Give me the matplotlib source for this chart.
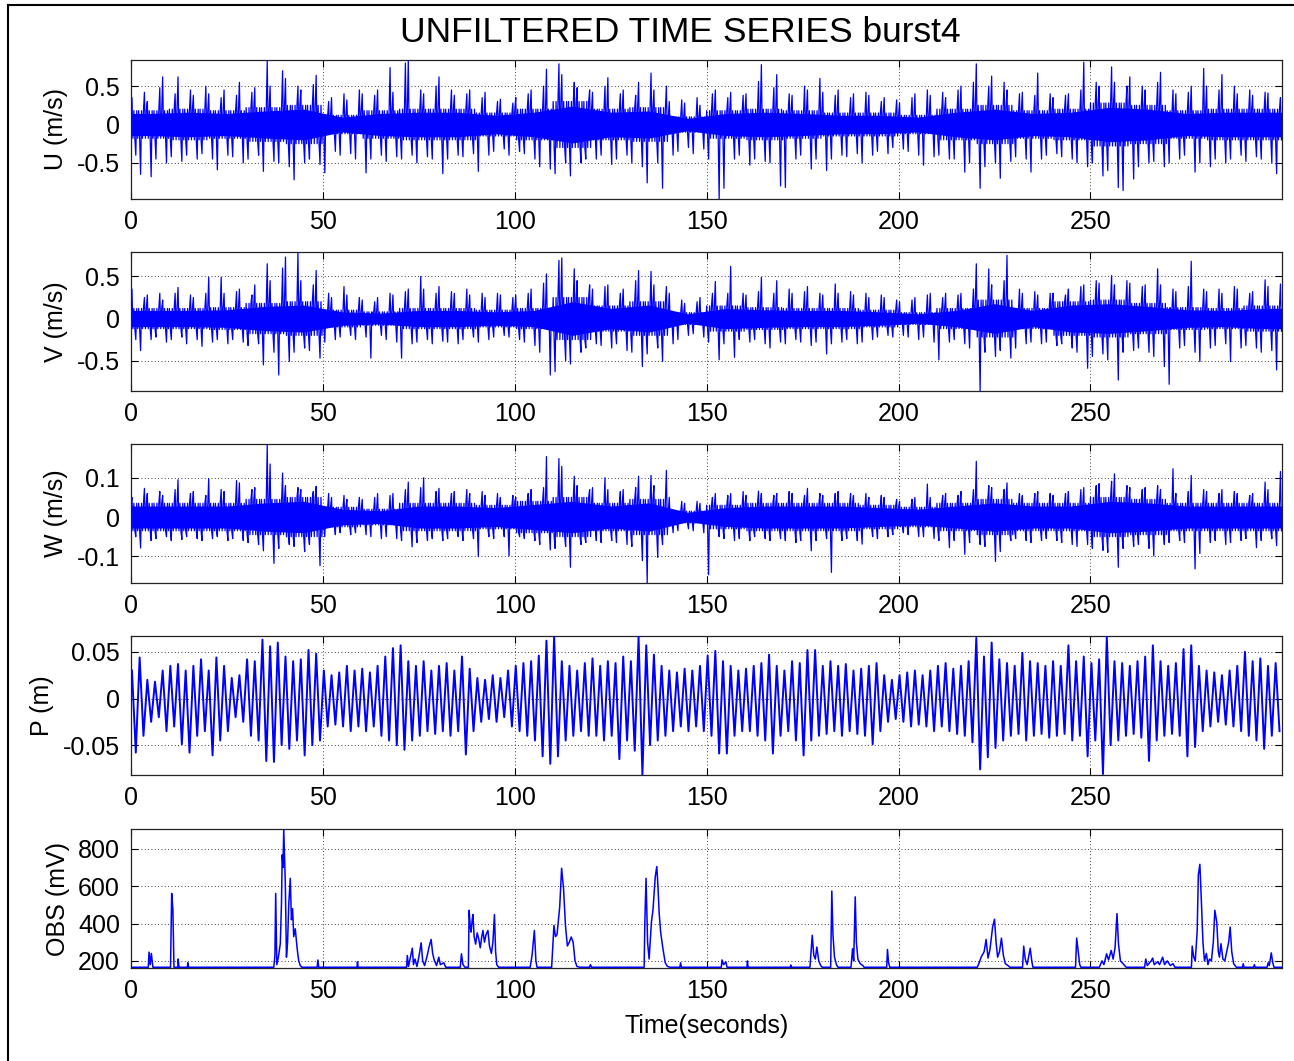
import numpy as np
import matplotlib
matplotlib.use("Agg")
import matplotlib.pyplot as plt
from matplotlib.lines import Line2D
from matplotlib.ticker import FormatStrFormatter

plt.rcParams['font.family'] = ['Liberation Sans', 'DejaVu Sans']
plt.rcParams['axes.unicode_minus'] = False

# envelopes, one value per 2 s bin (150 bins, 0-300 s)
# hi = biggest upward spike in the bin, lo = biggest downward spike
# core = half width of the dense band, one value per 10 s
u_hi = [0.35, 0.42, 0.30, 0.48, 0.62, 0.40, 0.62, 0.45, 0.38, 0.50,
        0.40, 0.35, 0.45, 0.38, 0.55, 0.42, 0.48, 0.83, 0.50, 0.70,
        0.60, 0.50, 0.45, 0.52, 0.64, 0.30, 0.35, 0.40, 0.32, 0.45,
        0.40, 0.38, 0.45, 0.74, 0.42, 0.80, 0.84, 0.45, 0.40, 0.50,
        0.62, 0.45, 0.38, 0.40, 0.45, 0.35, 0.42, 0.30, 0.33, 0.28,
        0.35, 0.40, 0.45, 0.50, 0.72, 0.79, 0.65, 0.55, 0.48, 0.45,
        0.42, 0.50, 0.61, 0.40, 0.45, 0.38, 0.55, 0.67, 0.45, 0.50,
        0.30, 0.32, 0.28, 0.35, 0.25, 0.40, 0.45, 0.35, 0.42, 0.38,
        0.40, 0.56, 0.78, 0.48, 0.65, 0.40, 0.38, 0.50, 0.45, 0.60,
        0.42, 0.38, 0.45, 0.35, 0.40, 0.42, 0.38, 0.30, 0.35, 0.32,
        0.28, 0.35, 0.40, 0.45, 0.38, 0.42, 0.35, 0.45, 0.50, 0.55,
        0.79, 0.50, 0.63, 0.55, 0.45, 0.40, 0.42, 0.38, 0.67, 0.40,
        0.35, 0.38, 0.40, 0.45, 0.81, 0.55, 0.50, 0.75, 0.55, 0.50,
        0.62, 0.50, 0.45, 0.55, 0.68, 0.45, 0.40, 0.42, 0.50, 0.73,
        0.50, 0.45, 0.65, 0.50, 0.40, 0.45, 0.38, 0.42, 0.41, 0.35]
u_lo = [-0.40, -0.65, -0.68, -0.45, -0.50, -0.42, -0.48, -0.40, -0.45, -0.38,
        -0.45, -0.59, -0.40, -0.42, -0.50, -0.45, -0.40, -0.61, -0.48, -0.50,
        -0.55, -0.72, -0.50, -0.45, -0.52, -0.63, -0.35, -0.40, -0.38, -0.45,
        -0.63, -0.45, -0.40, -0.48, -0.42, -0.45, -0.40, -0.50, -0.42, -0.45,
        -0.64, -0.45, -0.40, -0.42, -0.38, -0.61, -0.40, -0.35, -0.32, -0.40,
        -0.35, -0.38, -0.45, -0.55, -0.58, -0.64, -0.50, -0.67, -0.50, -0.45,
        -0.45, -0.40, -0.52, -0.45, -0.40, -0.50, -0.55, -0.76, -0.50, -0.83,
        -0.40, -0.35, -0.30, -0.38, -0.32, -0.45, -0.97, -0.83, -0.45, -0.40,
        -0.53, -0.45, -0.48, -0.50, -0.80, -0.82, -0.45, -0.40, -0.58, -0.45,
        -0.60, -0.45, -0.40, -0.42, -0.38, -0.50, -0.40, -0.35, -0.38, -0.30,
        -0.32, -0.35, -0.40, -0.53, -0.42, -0.40, -0.45, -0.45, -0.62, -0.50,
        -0.83, -0.55, -0.50, -0.70, -0.48, -0.42, -0.45, -0.62, -0.45, -0.40,
        -0.38, -0.42, -0.45, -0.50, -0.55, -0.50, -0.67, -0.60, -0.82, -0.86,
        -0.71, -0.55, -0.50, -0.48, -0.55, -0.50, -0.45, -0.40, -0.62, -0.50,
        -0.55, -0.45, -0.50, -0.45, -0.40, -0.48, -0.42, -0.45, -0.50, -0.64]
u_core = [0.18, 0.20, 0.18, 0.22, 0.25, 0.12, 0.18, 0.20, 0.20, 0.15,
          0.20, 0.30, 0.20, 0.22, 0.10, 0.18, 0.20, 0.18, 0.15, 0.15,
          0.12, 0.20, 0.25, 0.18, 0.20, 0.28, 0.25, 0.18, 0.20, 0.20]

v_hi = [0.35, 0.25, 0.28, 0.30, 0.22, 0.30, 0.37, 0.28, 0.25, 0.30,
        0.49, 0.49, 0.30, 0.32, 0.35, 0.28, 0.40, 0.65, 0.45, 0.60,
        0.73, 0.79, 0.45, 0.40, 0.57, 0.30, 0.25, 0.38, 0.28, 0.25,
        0.22, 0.20, 0.25, 0.30, 0.28, 0.32, 0.35, 0.50, 0.35, 0.30,
        0.38, 0.32, 0.30, 0.35, 0.28, 0.30, 0.25, 0.30, 0.28, 0.25,
        0.28, 0.30, 0.35, 0.42, 0.53, 0.69, 0.72, 0.59, 0.45, 0.40,
        0.35, 0.38, 0.40, 0.30, 0.35, 0.45, 0.57, 0.56, 0.40, 0.38,
        0.30, 0.22, 0.18, 0.20, 0.25, 0.30, 0.44, 0.30, 0.62, 0.30,
        0.28, 0.32, 0.49, 0.30, 0.45, 0.35, 0.30, 0.32, 0.38, 0.30,
        0.28, 0.41, 0.30, 0.32, 0.28, 0.30, 0.25, 0.28, 0.25, 0.22,
        0.20, 0.22, 0.25, 0.28, 0.30, 0.25, 0.30, 0.28, 0.30, 0.35,
        0.65, 0.59, 0.40, 0.45, 0.75, 0.35, 0.30, 0.32, 0.28, 0.30,
        0.30, 0.28, 0.35, 0.38, 0.40, 0.45, 0.42, 0.51, 0.40, 0.45,
        0.42, 0.38, 0.40, 0.59, 0.40, 0.35, 0.32, 0.38, 0.68, 0.35,
        0.32, 0.35, 0.30, 0.38, 0.35, 0.30, 0.32, 0.46, 0.38, 0.41]
v_lo = [-0.25, -0.38, -0.25, -0.22, -0.28, -0.25, -0.22, -0.30, -0.25, -0.33,
        -0.28, -0.25, -0.30, -0.25, -0.28, -0.32, -0.30, -0.55, -0.40, -0.67,
        -0.51, -0.40, -0.35, -0.38, -0.47, -0.28, -0.25, -0.22, -0.20, -0.25,
        -0.22, -0.47, -0.20, -0.25, -0.28, -0.47, -0.30, -0.28, -0.25, -0.30,
        -0.27, -0.28, -0.30, -0.25, -0.22, -0.28, -0.25, -0.22, -0.20, -0.22,
        -0.25, -0.28, -0.32, -0.40, -0.67, -0.63, -0.50, -0.54, -0.40, -0.35,
        -0.30, -0.32, -0.35, -0.30, -0.38, -0.40, -0.57, -0.42, -0.35, -0.51,
        -0.30, -0.25, -0.20, -0.18, -0.22, -0.28, -0.49, -0.30, -0.46, -0.25,
        -0.28, -0.25, -0.30, -0.35, -0.28, -0.30, -0.25, -0.28, -0.32, -0.28,
        -0.42, -0.30, -0.28, -0.25, -0.30, -0.28, -0.25, -0.22, -0.20, -0.22,
        -0.20, -0.22, -0.25, -0.22, -0.28, -0.49, -0.28, -0.25, -0.30, -0.35,
        -0.86, -0.40, -0.45, -0.38, -0.47, -0.35, -0.30, -0.28, -0.30, -0.28,
        -0.32, -0.30, -0.35, -0.40, -0.59, -0.45, -0.42, -0.49, -0.73, -0.40,
        -0.38, -0.35, -0.40, -0.45, -0.57, -0.78, -0.35, -0.32, -0.40, -0.51,
        -0.35, -0.32, -0.30, -0.51, -0.35, -0.32, -0.35, -0.40, -0.38, -0.61]
v_core = [0.12, 0.12, 0.13, 0.18, 0.20, 0.10, 0.08, 0.12, 0.12, 0.10,
          0.12, 0.25, 0.15, 0.20, 0.07, 0.15, 0.13, 0.12, 0.12, 0.10,
          0.07, 0.12, 0.22, 0.12, 0.20, 0.22, 0.18, 0.13, 0.12, 0.15]

w_hi = [0.050, 0.073, 0.060, 0.065, 0.055, 0.070, 0.095, 0.060, 0.065, 0.055,
        0.098, 0.070, 0.065, 0.093, 0.087, 0.070, 0.075, 0.186, 0.135, 0.112,
        0.080, 0.075, 0.070, 0.065, 0.078, 0.060, 0.050, 0.055, 0.045, 0.050,
        0.045, 0.050, 0.060, 0.055, 0.060, 0.070, 0.089, 0.075, 0.100, 0.065,
        0.073, 0.060, 0.065, 0.070, 0.060, 0.065, 0.055, 0.060, 0.050, 0.055,
        0.050, 0.060, 0.070, 0.075, 0.154, 0.149, 0.129, 0.104, 0.080, 0.070,
        0.075, 0.100, 0.070, 0.065, 0.070, 0.075, 0.104, 0.106, 0.080, 0.119,
        0.050, 0.040, 0.035, 0.040, 0.035, 0.050, 0.060, 0.055, 0.060, 0.065,
        0.055, 0.066, 0.060, 0.055, 0.060, 0.065, 0.060, 0.055, 0.073, 0.060,
        0.055, 0.060, 0.065, 0.060, 0.055, 0.060, 0.050, 0.055, 0.050, 0.045,
        0.040, 0.045, 0.050, 0.084, 0.050, 0.055, 0.060, 0.055, 0.065, 0.070,
        0.142, 0.080, 0.075, 0.070, 0.087, 0.060, 0.055, 0.060, 0.065, 0.060,
        0.055, 0.060, 0.065, 0.070, 0.075, 0.080, 0.085, 0.091, 0.110, 0.080,
        0.075, 0.070, 0.075, 0.080, 0.070, 0.123, 0.060, 0.065, 0.106, 0.070,
        0.065, 0.060, 0.070, 0.065, 0.060, 0.055, 0.060, 0.089, 0.070, 0.116]
w_lo = [-0.050, -0.079, -0.060, -0.055, -0.050, -0.060, -0.057, -0.050, -0.055, -0.060,
        -0.055, -0.050, -0.060, -0.055, -0.060, -0.065, -0.070, -0.086, -0.118, -0.080,
        -0.070, -0.075, -0.088, -0.070, -0.124, -0.050, -0.045, -0.040, -0.045, -0.040,
        -0.045, -0.050, -0.055, -0.050, -0.055, -0.060, -0.076, -0.065, -0.060, -0.055,
        -0.060, -0.055, -0.050, -0.060, -0.055, -0.101, -0.050, -0.055, -0.050, -0.099,
        -0.050, -0.055, -0.060, -0.070, -0.084, -0.080, -0.075, -0.128, -0.070, -0.065,
        -0.060, -0.065, -0.060, -0.065, -0.070, -0.075, -0.111, -0.168, -0.103, -0.070,
        -0.040, -0.035, -0.030, -0.035, -0.040, -0.147, -0.050, -0.055, -0.060, -0.055,
        -0.060, -0.050, -0.055, -0.060, -0.055, -0.060, -0.065, -0.060, -0.086, -0.060,
        -0.055, -0.141, -0.060, -0.055, -0.060, -0.069, -0.050, -0.055, -0.050, -0.045,
        -0.040, -0.045, -0.050, -0.050, -0.055, -0.060, -0.078, -0.060, -0.095, -0.065,
        -0.070, -0.075, -0.113, -0.088, -0.060, -0.055, -0.060, -0.065, -0.060, -0.055,
        -0.060, -0.065, -0.070, -0.075, -0.070, -0.080, -0.085, -0.090, -0.128, -0.080,
        -0.075, -0.070, -0.080, -0.099, -0.070, -0.065, -0.060, -0.065, -0.132, -0.093,
        -0.065, -0.060, -0.070, -0.065, -0.060, -0.055, -0.078, -0.060, -0.055, -0.073]
w_core = [0.035, 0.035, 0.035, 0.045, 0.050, 0.025, 0.020, 0.035, 0.035, 0.030,
          0.040, 0.050, 0.035, 0.045, 0.015, 0.030, 0.035, 0.035, 0.035, 0.030,
          0.025, 0.035, 0.045, 0.035, 0.035, 0.050, 0.045, 0.035, 0.035, 0.035]

p_hi = [0.030, 0.044, 0.020, 0.018, 0.030, 0.035, 0.037, 0.030, 0.035, 0.042,
        0.030, 0.044, 0.035, 0.022, 0.025, 0.042, 0.040, 0.063, 0.056, 0.060,
        0.045, 0.040, 0.042, 0.052, 0.048, 0.030, 0.025, 0.028, 0.035, 0.030,
        0.032, 0.028, 0.035, 0.045, 0.054, 0.057, 0.040, 0.035, 0.040, 0.030,
        0.035, 0.038, 0.030, 0.045, 0.032, 0.022, 0.020, 0.025, 0.022, 0.030,
        0.035, 0.038, 0.040, 0.046, 0.062, 0.067, 0.040, 0.035, 0.030, 0.038,
        0.043, 0.035, 0.040, 0.038, 0.045, 0.040, 0.066, 0.057, 0.047, 0.035,
        0.030, 0.028, 0.032, 0.030, 0.035, 0.046, 0.051, 0.040, 0.035, 0.030,
        0.032, 0.035, 0.038, 0.047, 0.035, 0.030, 0.040, 0.038, 0.052, 0.052,
        0.035, 0.040, 0.035, 0.037, 0.030, 0.032, 0.035, 0.038, 0.025, 0.020,
        0.025, 0.028, 0.030, 0.025, 0.030, 0.035, 0.038, 0.032, 0.035, 0.040,
        0.065, 0.045, 0.060, 0.042, 0.038, 0.035, 0.049, 0.040, 0.038, 0.035,
        0.040, 0.035, 0.057, 0.040, 0.045, 0.038, 0.042, 0.066, 0.040, 0.038,
        0.035, 0.040, 0.045, 0.057, 0.040, 0.035, 0.038, 0.053, 0.057, 0.035,
        0.030, 0.028, 0.025, 0.030, 0.035, 0.050, 0.040, 0.043, 0.035, 0.038]
p_lo = [-0.058, -0.040, -0.025, -0.020, -0.035, -0.030, -0.049, -0.058, -0.040, -0.035,
        -0.061, -0.045, -0.035, -0.020, -0.025, -0.040, -0.045, -0.067, -0.068, -0.050,
        -0.054, -0.045, -0.061, -0.050, -0.045, -0.030, -0.028, -0.030, -0.035, -0.030,
        -0.035, -0.030, -0.040, -0.045, -0.050, -0.055, -0.045, -0.040, -0.035, -0.038,
        -0.035, -0.040, -0.035, -0.060, -0.035, -0.025, -0.022, -0.025, -0.020, -0.030,
        -0.035, -0.040, -0.045, -0.062, -0.070, -0.062, -0.045, -0.040, -0.035, -0.040,
        -0.040, -0.045, -0.040, -0.065, -0.045, -0.056, -0.082, -0.050, -0.045, -0.040,
        -0.035, -0.030, -0.035, -0.030, -0.035, -0.040, -0.059, -0.059, -0.040, -0.035,
        -0.035, -0.040, -0.045, -0.059, -0.040, -0.035, -0.045, -0.061, -0.045, -0.040,
        -0.038, -0.035, -0.040, -0.035, -0.038, -0.040, -0.049, -0.035, -0.025, -0.022,
        -0.025, -0.030, -0.028, -0.030, -0.035, -0.030, -0.035, -0.038, -0.040, -0.047,
        -0.076, -0.063, -0.053, -0.045, -0.040, -0.038, -0.045, -0.040, -0.038, -0.042,
        -0.040, -0.038, -0.045, -0.040, -0.062, -0.045, -0.081, -0.050, -0.045, -0.040,
        -0.038, -0.042, -0.067, -0.045, -0.040, -0.038, -0.040, -0.062, -0.052, -0.035,
        -0.030, -0.025, -0.028, -0.030, -0.035, -0.040, -0.045, -0.054, -0.040, -0.035]

# OBS trace: baseline with bursts, vertices
obs_t = [0, 4.5, 4.7, 5.0, 5.3, 5.7, 10.3, 10.6, 10.9, 11.2, 12.2, 12.3, 12.5,
         14.7, 14.8, 15.0,
         37.2, 37.5, 37.7, 38.0, 38.4, 38.9, 39.2, 39.4, 39.6, 39.8, 40.0, 40.2,
         40.5, 40.8, 41.1, 41.5, 41.8, 42.1, 42.4, 42.8, 43.3, 43.7, 44.1, 44.5,
         48.5, 48.7, 48.9, 58.9, 59.0, 59.2,
         71.8, 72.0, 72.3, 72.6, 73.3, 73.6, 74.0, 74.5, 75.0, 75.6, 76.0, 76.5,
         77.2, 77.6, 78.2, 78.6, 79.0, 79.6, 80.2, 80.6, 81.5, 82.0,
         85.8, 86.1, 86.5, 87.0,
         87.9, 88.1, 88.4, 88.6, 88.9, 89.1, 89.4, 89.8, 90.2, 90.6, 91.0, 91.4,
         91.7, 92.1, 92.5, 93.0, 93.4, 93.9, 94.3, 94.7, 95.0, 95.3, 95.8,
         104.0, 104.5, 105.1, 105.5, 105.8,
         109.6, 110.2, 110.6, 111.0, 111.7, 112.2, 112.7, 113.2, 113.7, 114.2,
         114.7, 115.2, 115.7, 116.2, 117.0, 119.5, 119.7, 120.0,
         133.7, 133.9, 134.2, 134.6, 135.0, 135.6, 136.0, 136.3, 136.6, 137.0,
         137.3, 137.6, 138.0, 138.6, 139.2, 139.8, 140.5, 143.0, 143.2, 143.4,
         153.8, 154.0, 154.4, 155.0, 155.3, 160.5, 160.6, 160.8, 171.8, 171.9, 172.0,
         176.9, 177.5, 177.9, 178.3, 178.7, 179.2, 179.7, 180.1,
         182.3, 182.6, 182.9, 183.3, 183.8, 184.2,
         187.6, 188.0, 188.3, 188.7, 189.0, 189.4, 190.0, 190.7, 191.0,
         196.9, 197.1, 197.4, 197.7,
         220.5, 221.0, 221.5, 222.3, 222.8, 223.3, 223.8, 224.5, 225.0, 225.4,
         225.8, 226.3, 226.8, 227.3, 227.8, 228.5, 229.0,
         232.3, 232.6, 233.0, 233.5, 234.3, 234.7, 235.0,
         246.1, 246.4, 246.8, 247.2, 247.5,
         252.3, 253.0, 253.5, 254.2, 254.7, 255.4, 255.9, 256.4, 256.9, 257.3,
         257.8, 258.5, 259.3,
         264.1, 264.4, 264.8, 265.8, 266.2, 266.6, 267.5, 268.0, 268.8, 269.3,
         270.0, 270.8, 271.5, 272.0,
         276.3, 276.5, 276.9, 277.3, 277.8, 278.1, 278.5, 278.9, 279.3, 279.7,
         280.2, 280.6, 281.0, 281.5, 282.0, 282.4, 282.9, 283.3, 283.6, 284.0,
         284.5, 285.0, 285.6, 286.0, 286.4, 286.8, 287.3, 288.0,
         289.6, 289.8, 290.0, 292.5, 292.7, 292.9,
         296.0, 296.3, 296.6, 297.1, 297.5, 297.8, 299.9]
obs_v = [166, 166, 247, 180, 240, 166, 166, 561, 480, 166, 166, 210, 166,
         166, 190, 166,
         166, 230, 561, 180, 220, 292, 500, 768, 700, 902, 760, 624,
         220, 300, 500, 642, 420, 480, 330, 372, 265, 200, 175, 166,
         166, 205, 166, 166, 195, 166,
         166, 229, 170, 200, 268, 180, 210, 170, 220, 297, 200, 175,
         230, 270, 315, 240, 205, 175, 220, 180, 190, 166,
         166, 238, 180, 166,
         166, 471, 380, 354, 420, 448, 330, 290, 350, 318, 270, 330,
         363, 300, 340, 363, 280, 240, 300, 448, 250, 180, 166,
         166, 230, 363, 200, 166,
         166, 390, 330, 340, 489, 696, 588, 390, 280, 300,
         328, 300, 200, 170, 166, 166, 180, 166,
         166, 420, 642, 300, 210, 408, 471, 560, 651, 705,
         600, 462, 354, 265, 190, 170, 166, 166, 190, 166,
         166, 205, 180, 195, 166, 166, 200, 166, 166, 178, 166,
         166, 337, 230, 210, 274, 200, 175, 166,
         166, 574, 340, 220, 180, 166,
         166, 265, 200, 543, 300, 210, 185, 175, 166,
         166, 261, 190, 166,
         166, 190, 220, 250, 315, 215, 260, 381, 423, 300,
         220, 250, 322, 230, 185, 175, 166,
         166, 279, 210, 180, 268, 200, 166,
         166, 322, 250, 180, 166,
         166, 200, 180, 238, 205, 256, 210, 270, 453, 290,
         200, 185, 166,
         166, 210, 175, 200, 215, 180, 195, 180, 220, 180,
         200, 175, 185, 166,
         166, 279, 220, 200, 360, 660, 717, 516, 300, 200,
         240, 180, 210, 200, 300, 471, 408, 250, 220, 292,
         210, 200, 260, 300, 381, 250, 185, 166,
         166, 185, 166, 166, 180, 166,
         166, 190, 175, 243, 190, 166, 166]

t_end = 299.9
bin_s = 2.0
core_s = 10.0


def dense_trace(hi, lo, core):
    # each 2 s bin: one up spike and one down spike over the dense band;
    # the order of the two spikes flips on every other bin
    hi = np.asarray(hi)
    lo = np.asarray(lo)
    c = np.repeat(core, len(hi) // len(core))
    even = np.column_stack([c, hi, -c, c, -c, lo, c, -c])
    odd = np.column_stack([c, -c, lo, c, -c, c, hi, -c])
    rows = np.where((np.arange(len(hi)) % 2 == 0)[:, None], even, odd)
    v = rows.ravel()
    t = np.arange(len(v)) * (bin_s / 8)
    # band outline: the core values at the middle of their 10 s windows
    bt = np.r_[0, np.arange(len(core)) * core_s + core_s / 2, t_end]
    bv = np.r_[core[0], core, core[-1]]
    return t, v, (bt, bv)


def wave_trace(hi, lo):
    v = np.column_stack([hi, lo]).ravel()
    t = np.arange(len(v)) * (bin_s / 2) + 0.25
    return t, v, None


panels = [
    (dense_trace(u_hi, u_lo, u_core), 'U (m/s)', [-0.5, 0, 0.5], None),
    (dense_trace(v_hi, v_lo, v_core), 'V (m/s)', [-0.5, 0, 0.5], None),
    (dense_trace(w_hi, w_lo, w_core), 'W (m/s)', [-0.1, 0, 0.1], None),
    (wave_trace(p_hi, p_lo), 'P (m)', [-0.05, 0, 0.05], None),
    ((np.array(obs_t), np.array(obs_v), None), 'OBS (mV)', [200, 400, 600, 800],
     (162, 906)),
]

fig = plt.figure(figsize=(12.94, 10.61), dpi=100)
tops = [60, 252, 444, 636, 829]
L, R = 131, 1282
H = 139

for k, ((t, v, band), lab, yt, ylim) in enumerate(panels):
    top = tops[k]
    ax = fig.add_axes([L / 1294, 1 - (top + H) / 1061, (R - L) / 1294, H / 1061])
    ax.grid(True, color='k', linestyle=(0, (1, 3)), linewidth=0.6, zorder=1)
    ax.set_axisbelow(True)
    if band is not None:
        bt, bv = band
        ax.fill_between(bt, -0.8 * bv, 0.8 * bv, color='#0000ff', lw=0, zorder=2)
    lw = {3: 1.4, 4: 1.1}.get(k, 0.9)
    ax.plot(t, v, color='#0000ff', lw=lw, zorder=3)
    ax.set_xlim(0, t_end)
    if ylim is None:
        ylim = (v.min(), v.max())
    ax.set_ylim(*ylim)
    ax.set_xticks([0, 50, 100, 150, 200, 250])
    ax.set_yticks(yt)
    ax.xaxis.set_major_formatter(FormatStrFormatter('%g'))
    ax.yaxis.set_major_formatter(FormatStrFormatter('%g'))
    ax.tick_params(direction='in', length=5, width=0.8, top=True, right=True,
                   labelsize=18, pad=8)
    for s in ax.spines.values():
        s.set_linewidth(0.9)
        s.set_color('#222222')
    ax.set_ylabel(lab, fontsize=18, labelpad=6)
    if k == 4:
        ax.set_xlabel('Time(seconds)', fontsize=18, labelpad=8)

fig.text(680 / 1294, 1 - 32 / 1061, 'UNFILTERED TIME SERIES burst4',
         fontsize=25.5, ha='center', va='center')

# border of the original window
fig.add_artist(Line2D([8 / 1294, 8 / 1294], [0, 1 - 5 / 1061],
                      transform=fig.transFigure, color='k', lw=1.5))
fig.add_artist(Line2D([8 / 1294, 1], [1 - 5 / 1061, 1 - 5 / 1061],
                      transform=fig.transFigure, color='k', lw=1.5))

fig.savefig('out.png', dpi=100)
